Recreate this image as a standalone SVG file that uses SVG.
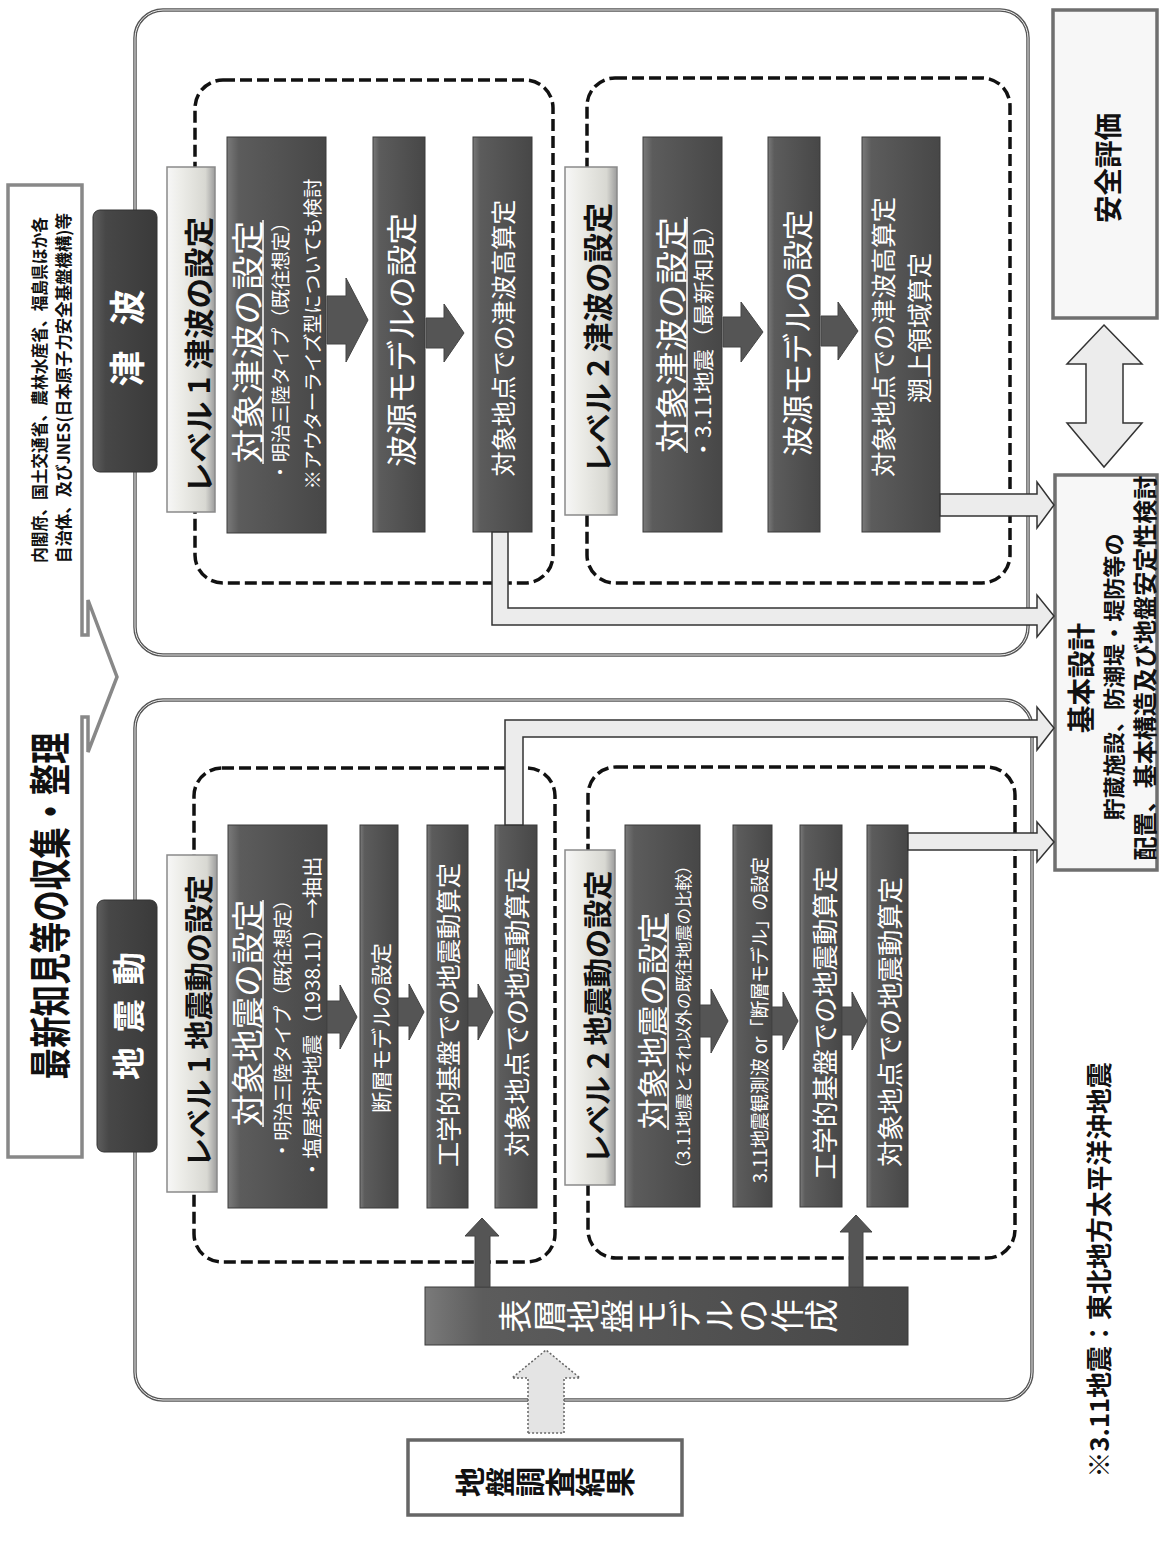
<svg xmlns="http://www.w3.org/2000/svg" width="1159" height="1551" viewBox="0 0 1159 1551">
<defs>
<linearGradient id="gDark" x1="0" y1="0" x2="1" y2="0">
<stop offset="0" stop-color="#7a7a7a"/><stop offset="0.12" stop-color="#5c5c5c"/><stop offset="1" stop-color="#474747"/>
</linearGradient>
<linearGradient id="gHead" x1="0" y1="0" x2="1" y2="0">
<stop offset="0" stop-color="#f7f7f7"/><stop offset="0.25" stop-color="#eeeeea"/><stop offset="0.8" stop-color="#d8d8d2"/><stop offset="1" stop-color="#9c9c9c"/>
</linearGradient>
<linearGradient id="gLab" x1="0" y1="0" x2="1" y2="0">
<stop offset="0" stop-color="#5e5e5e"/><stop offset="0.2" stop-color="#474747"/><stop offset="1" stop-color="#3a3a3a"/>
</linearGradient>
</defs>
<style>
.ob{fill:#fff;stroke:#555;stroke-width:3.5}
.obi{fill:none;stroke:#fff;stroke-width:0.9}
.dash{fill:none;stroke:#111;stroke-width:3.5;stroke-dasharray:12 5}
.dk{fill:url(#gDark);stroke:#3a3a3a;stroke-width:1}
.hd{fill:url(#gHead);stroke:#8a8a8a;stroke-width:1.5}
.lab{fill:url(#gLab);stroke:#333;stroke-width:1}
.ar{fill:#555;stroke:#444;stroke-width:1}
.hol{fill:#ececec;stroke:#333;stroke-width:1.5}
.dot{fill:#e4e4e4;stroke:#666;stroke-width:1.5;stroke-dasharray:2 2}
.wb{fill:#f7f7f7;stroke:#6f6f6f;stroke-width:3.5}
.ul{stroke:#fff;stroke-width:1.5}
text{font-family:"Noto Sans CJK JP","Noto Sans",sans-serif;text-anchor:middle;dominant-baseline:central}
.w{fill:#fff}
.b{fill:#111;font-weight:bold}
.wbld{fill:#fff;font-weight:bold}
.v{writing-mode:vertical-rl}
</style>

<g id="banner">
<path d="M8,185 H82 V635 H88 V600 L117,677 L88,752 V717 H82 V1157 H8 Z" fill="#fff" stroke="#888" stroke-width="3.5"/>
<text class="b" font-size="42" textLength="347" lengthAdjust="spacingAndGlyphs" transform="translate(47,906) rotate(-90)">最新知見等の収集・整理</text>
<text class="b" font-size="17" textLength="346" lengthAdjust="spacingAndGlyphs" transform="translate(38,390) rotate(-90)">内閣府、国土交通省、農林水産省、福島県ほか各</text>
<text class="b" font-size="17" textLength="350" lengthAdjust="spacingAndGlyphs" transform="translate(62,388) rotate(-90)">自治体、及びJNES(日本原子力安全基盤機構)等</text>
</g>

<g id="tsunami">
<rect class="ob" x="135" y="10" width="893" height="645" rx="28"/>
<rect class="obi" x="135" y="10" width="893" height="645" rx="28"/>
<rect class="lab" x="93" y="210" width="64" height="262" rx="7"/>
<text class="wbld" font-size="36" textLength="97" transform="translate(125,338) rotate(-90)">津波</text>
</g>

<g id="tsunami-level1">
<rect class="dash" x="195" y="80" width="358" height="503" rx="28"/>
<rect class="hd" x="167" y="167" width="48" height="345"/>
<text class="b" font-size="30" textLength="276" lengthAdjust="spacingAndGlyphs" transform="translate(197,355) rotate(-90)">レベル 1 津波の設定</text>
</g>
<g id="t-box-a">
<rect class="dk" x="227" y="137" width="99" height="396"/>
<text class="w" font-size="33" textLength="243" lengthAdjust="spacingAndGlyphs" transform="translate(246,342) rotate(-90)">対象津波の設定</text>
<line class="ul" x1="263" y1="220" x2="263" y2="464"/>
<text class="w" font-size="19" textLength="269" lengthAdjust="spacingAndGlyphs" transform="translate(279,347) rotate(-90)">・明治三陸タイプ（既往想定）</text>
<text class="w" font-size="19" textLength="311" lengthAdjust="spacingAndGlyphs" transform="translate(311,334) rotate(-90)">※アウターライズ型についても検討</text>
</g>
<g id="t-box-b">
<rect class="dk" x="373" y="137" width="52" height="395"/>
<text class="w" font-size="31" textLength="254" lengthAdjust="spacingAndGlyphs" transform="translate(399,340) rotate(-90)">波源モデルの設定</text>
</g>
<g id="t-box-c">
<rect class="dk" x="473" y="137" width="59" height="395"/>
<text class="w" font-size="25" textLength="277" lengthAdjust="spacingAndGlyphs" transform="translate(502,338) rotate(-90)">対象地点での津波高算定</text>
</g>

<g id="tsunami-level2">
<rect class="dash" x="587" y="78" width="423" height="505" rx="28"/>
<rect class="hd" x="565" y="167" width="52" height="348"/>
<text class="b" font-size="30" textLength="270" lengthAdjust="spacingAndGlyphs" transform="translate(596,338) rotate(-90)">レベル 2 津波の設定</text>
</g>
<g id="t-box-d">
<rect class="dk" x="643" y="137" width="79" height="395"/>
<text class="w" font-size="33" textLength="236" lengthAdjust="spacingAndGlyphs" transform="translate(670,335) rotate(-90)">対象津波の設定</text>
<line class="ul" x1="687" y1="217" x2="687" y2="453"/>
<text class="w" font-size="21" textLength="247" lengthAdjust="spacingAndGlyphs" transform="translate(702,337) rotate(-90)">・3.11地震（最新知見）</text>
</g>
<g id="t-box-e">
<rect class="dk" x="768" y="137" width="52" height="395"/>
<text class="w" font-size="31" textLength="247" lengthAdjust="spacingAndGlyphs" transform="translate(795,333) rotate(-90)">波源モデルの設定</text>
</g>
<g id="t-box-f">
<rect class="dk" x="862" y="137" width="78" height="395"/>
<text class="w" font-size="25" textLength="280" lengthAdjust="spacingAndGlyphs" transform="translate(882,337) rotate(-90)">対象地点での津波高算定</text>
<text class="w" font-size="25" textLength="150" lengthAdjust="spacingAndGlyphs" transform="translate(918,328) rotate(-90)">遡上領域算定</text>
</g>

<g id="earthquake">
<rect class="ob" x="135" y="700" width="897" height="700" rx="28"/>
<rect class="obi" x="135" y="700" width="897" height="700" rx="28"/>
<rect class="lab" x="97" y="900" width="60" height="252" rx="7"/>
<text class="wbld" font-size="33" textLength="128" transform="translate(127,1016) rotate(-90)">地震動</text>
</g>

<g id="eq-level1">
<rect class="dash" x="194" y="768" width="361" height="494" rx="28"/>
<rect class="hd" x="167" y="855" width="50" height="337"/>
<text class="b" font-size="29" textLength="292" lengthAdjust="spacingAndGlyphs" transform="translate(197,1021) rotate(-90)">レベル 1 地震動の設定</text>
</g>
<g id="e-box-g">
<rect class="dk" x="228" y="825" width="99" height="383"/>
<text class="w" font-size="33" textLength="227" lengthAdjust="spacingAndGlyphs" transform="translate(246,1013) rotate(-90)">対象地震の設定</text>
<line class="ul" x1="263" y1="900" x2="263" y2="1127"/>
<text class="w" font-size="19" textLength="270" lengthAdjust="spacingAndGlyphs" transform="translate(281,1025) rotate(-90)">・明治三陸タイプ（既往想定）</text>
<text class="w" font-size="20" textLength="323" lengthAdjust="spacingAndGlyphs" transform="translate(311,1018) rotate(-90)">・塩屋埼沖地震（1938.11）→抽出</text>
</g>
<g id="e-box-h">
<rect class="dk" x="360" y="825" width="38" height="383"/>
<text class="w" font-size="21" textLength="170" lengthAdjust="spacingAndGlyphs" transform="translate(380,1028) rotate(-90)">断層モデルの設定</text>
</g>
<g id="e-box-i">
<rect class="dk" x="427" y="825" width="41" height="383"/>
<text class="w" font-size="25" textLength="304" lengthAdjust="spacingAndGlyphs" transform="translate(447,1015) rotate(-90)">工学的基盤での地震動算定</text>
</g>
<g id="e-box-j">
<rect class="dk" x="495" y="825" width="42" height="383"/>
<text class="w" font-size="26" textLength="290" lengthAdjust="spacingAndGlyphs" transform="translate(515,1012) rotate(-90)">対象地点での地震動算定</text>
</g>

<g id="eq-level2">
<rect class="dash" x="588" y="767" width="427" height="491" rx="28"/>
<rect class="hd" x="565" y="850" width="50" height="335"/>
<text class="b" font-size="29" textLength="293" lengthAdjust="spacingAndGlyphs" transform="translate(596,1017) rotate(-90)">レベル 2 地震動の設定</text>
</g>
<g id="e-box-k">
<rect class="dk" x="625" y="825" width="75" height="382"/>
<text class="w" font-size="31" textLength="217" lengthAdjust="spacingAndGlyphs" transform="translate(650,1021) rotate(-90)">対象地震の設定</text>
<line class="ul" x1="668" y1="913" x2="668" y2="1130"/>
<text class="w" font-size="17" textLength="320" lengthAdjust="spacingAndGlyphs" transform="translate(682,1017) rotate(-90)">（3.11地震とそれ以外の既往地震の比較）</text>
</g>
<g id="e-box-l">
<rect class="dk" x="733" y="825" width="39" height="382"/>
<text class="w" font-size="19" textLength="326" lengthAdjust="spacingAndGlyphs" transform="translate(758,1020) rotate(-90)">3.11地震観測波 or「断層モデル」の設定</text>
</g>
<g id="e-box-m">
<rect class="dk" x="800" y="825" width="42" height="382"/>
<text class="w" font-size="26" textLength="313" lengthAdjust="spacingAndGlyphs" transform="translate(823,1023) rotate(-90)">工学的基盤での地震動算定</text>
</g>
<g id="e-box-n">
<rect class="dk" x="867" y="825" width="41" height="382"/>
<text class="w" font-size="26" textLength="290" lengthAdjust="spacingAndGlyphs" transform="translate(888,1022) rotate(-90)">対象地点での地震動算定</text>
</g>

<g id="ground-model">
<rect class="dk" x="425" y="1287" width="483" height="58"/>
<text class="w v" font-size="34" transform="translate(668,1316) rotate(-90)">表層地盤モデルの作成</text>
</g>

<g id="survey">
<rect fill="#fff" stroke="#666" stroke-width="3.5" x="408" y="1440" width="274" height="75"/>
<text class="b v" font-size="30" transform="translate(545,1482) rotate(-90)">地盤調査結果</text>
</g>

<g id="basic-design">
<rect class="wb" x="1055" y="475" width="102" height="395"/>
<text class="b" font-size="28" textLength="110" lengthAdjust="spacingAndGlyphs" transform="translate(1080,678) rotate(-90)">基本設計</text>
<text class="b" font-size="22" textLength="287" lengthAdjust="spacingAndGlyphs" transform="translate(1112,677) rotate(-90)">貯蔵施設、防潮堤・堤防等の</text>
<text class="b" font-size="24" textLength="385" lengthAdjust="spacingAndGlyphs" transform="translate(1143,668) rotate(-90)">配置、基本構造及び地盤安定性検討</text>
</g>

<g id="safety">
<rect class="wb" x="1053" y="10" width="104" height="308"/>
<text class="b" font-size="28" textLength="110" lengthAdjust="spacingAndGlyphs" transform="translate(1107,168) rotate(-90)">安全評価</text>
</g>

<g id="note">
<text class="b" font-size="26" textLength="415" lengthAdjust="spacingAndGlyphs" transform="translate(1097,1270) rotate(-90)">※3.11地震：東北地方太平洋沖地震</text>
</g>

<g id="connectors">
<path class="ar" d="M327,296 H346 V278 L368,320 L346,362 V344 H327 Z"/>
<path class="ar" d="M426,318 H444 V304 L464,333 L444,362 V348 H426 Z"/>
<path class="ar" d="M723,317 H741 V302 L763,332 L741,362 V347 H723 Z"/>
<path class="ar" d="M821,316 H838 V302 L858,331 L838,360 V346 H821 Z"/>
<path class="ar" d="M327,1001 H340 V985 L357,1017 L340,1049 V1033 H327 Z"/>
<path class="ar" d="M398,998 H409 V984 L424,1012 L409,1040 V1026 H398 Z"/>
<path class="ar" d="M468,998 H478 V984 L493,1012 L478,1040 V1026 H468 Z"/>
<path class="ar" d="M700,1005 H711 V989 L728,1021 L711,1053 V1037 H700 Z"/>
<path class="ar" d="M772,1007 H783 V992 L798,1021 L783,1050 V1035 H772 Z"/>
<path class="ar" d="M842,1007 H852 V992 L867,1021 L852,1050 V1035 H842 Z"/>
<path class="ar" d="M475,1287 V1236 H465 L482,1218 L499,1236 H490 V1287 Z"/>
<path class="ar" d="M849,1287 V1232 H840 L856,1215 L872,1232 H863 V1287 Z"/>
<path class="dot" d="M528,1433 V1378 H512 L546,1350 L580,1378 H564 V1433 Z"/>
<path class="hol" d="M940,494 H1037 V482 L1054,505 L1037,528 V516 H940 Z"/>
<path class="hol" d="M492,532 V625 H1037 V637 L1054,616 L1037,595 V608 H508 V532 Z"/>
<path class="hol" d="M505,825 V720 H1037 V707 L1054,728 L1037,750 V737 H523 V825 Z"/>
<path class="hol" d="M908,833 H1037 V822 L1054,842 L1037,862 V850 H908 Z"/>
<path class="hol" fill="#e6e6e6" stroke="#777" d="M1104,325 L1142,364 H1123 V423 H1142 L1104,467 L1067,423 H1086 V364 H1067 Z"/>
</g>
</svg>
